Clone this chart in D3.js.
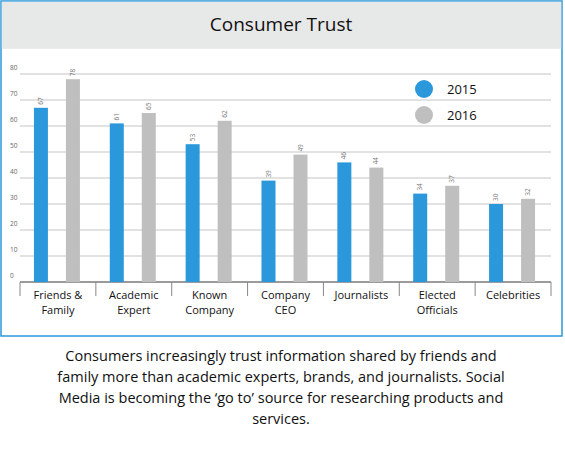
<!DOCTYPE html>
<html><head><meta charset="utf-8">
<script src="https://cdn.jsdelivr.net/npm/d3@7"></script>
<style>body{margin:0;background:#fff}</style></head>
<body><svg id="c" width="565" height="449"></svg>
<script>
const categories = [["Friends &","Family"],["Academic","Expert"],["Known","Company"],["Company","CEO"],["Journalists"],["Elected","Officials"],["Celebrities"]];
const series2015 = [67,61,53,39,46,34,30];
const series2016 = [78,65,62,49,44,37,32];
const yTicks = [0,10,20,30,40,50,60,70,80];
const seriesNames = ["2015","2016"];
const colors = ["#2b98dc","#bfbfbf"];
const caption = ["Consumers increasingly trust information shared by friends and","family more than academic experts, brands, and journalists. Social","Media is becoming the \u2018go to\u2019 source for researching products and","services."];

const svg = d3.select("#c");
const font = "Open Sans, Liberation Sans, sans-serif";
svg.append("rect").attr("x",1).attr("y",1).attr("width",561).attr("height",335).attr("fill","#fff").attr("stroke","#2b98dc").attr("stroke-width",1.5);
svg.append("rect").attr("x",1.75).attr("y",1.75).attr("width",559.5).attr("height",47).attr("fill","#e7e8e8");
svg.append("text").attr("x",281).attr("y",31).attr("text-anchor","middle").attr("font-family",font).attr("font-size",19).attr("fill","#111").text("Consumer Trust");

const x = d3.scaleBand().domain(d3.range(categories.length)).range([20,551]);
const y = d3.scaleLinear().domain([0,80]).range([282,74]);
const g = svg.append("g");
yTicks.forEach(t=>{
  g.append("line").attr("x1",20).attr("x2",551).attr("y1",y(t)).attr("y2",y(t)).attr("stroke","#d9d9d9").attr("stroke-width",1.5);
  g.append("text").attr("x",10).attr("y",y(t)-4).attr("font-family",font).attr("font-size",6.5).attr("fill","#666").text(t);
});
g.append("line").attr("x1",20).attr("x2",551).attr("y1",282).attr("y2",282).attr("stroke","#555").attr("stroke-width",1.2);
d3.range(categories.length+1).forEach(i=>{
  const xx = i<categories.length? x(i): 551;
  g.append("line").attr("x1",xx).attr("x2",xx).attr("y1",282).attr("y2",296).attr("stroke","#888");
});
const bw=14;
[series2015,series2016].forEach((s,k)=>{
  s.forEach((v,i)=>{
    const cx = x(i)+x.bandwidth()/2 + (k===0?-17:15);
    g.append("rect").attr("x",cx-bw/2).attr("y",y(v)).attr("width",bw).attr("height",y(0)-y(v)).attr("fill",colors[k]);
    g.append("text").attr("transform",`translate(${cx+2},${y(v)-3}) rotate(-90)`).attr("font-family",font).attr("font-size",6.5).attr("fill","#777").text(v);
  });
});
categories.forEach((c,i)=>{
  c.forEach((l,j)=>{
    g.append("text").attr("x",x(i)+x.bandwidth()/2).attr("y",299+j*15).attr("text-anchor","middle").attr("font-family",font).attr("font-size",11).attr("fill","#111").text(l);
  });
});
seriesNames.forEach((n,k)=>{
  svg.append("circle").attr("cx",424).attr("cy",89+k*26).attr("r",9).attr("fill",colors[k]);
  svg.append("text").attr("x",447).attr("y",94+k*26).attr("font-family",font).attr("font-size",13).attr("fill","#111").text(n);
});
caption.forEach((l,i)=>{
  svg.append("text").attr("x",281).attr("y",361+i*21).attr("text-anchor","middle").attr("font-family",font).attr("font-size",14.5).attr("fill","#111").text(l);
});
</script></body></html>
